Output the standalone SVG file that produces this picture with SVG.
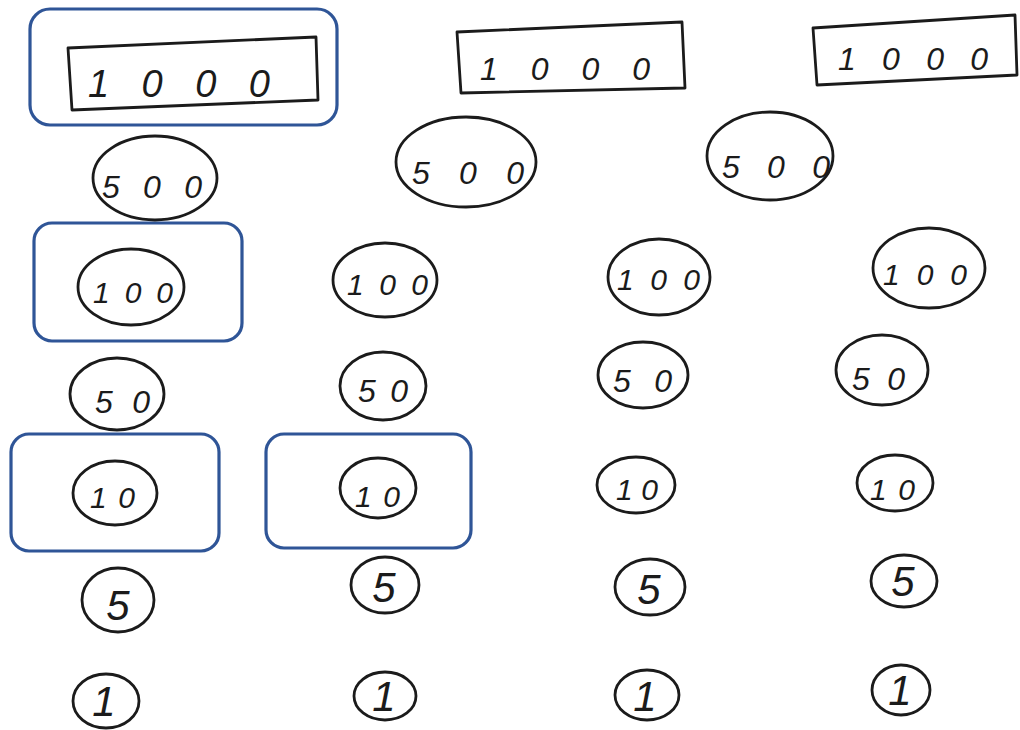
<svg xmlns="http://www.w3.org/2000/svg" width="1020" height="730" viewBox="0 0 1020 730">
<style>
.ink{fill:none;stroke:#1b1b1b;stroke-width:2.8;stroke-linejoin:round}
.hl{fill:none;stroke:#2F5597;stroke-width:3.2}
.t{font-family:"Liberation Sans",Arial,sans-serif;font-style:italic;fill:#1b1b1b}
.big{font-size:38px}
.m{font-size:32px}
.s{font-size:30px}
.d{font-size:42px}
.c{text-anchor:middle}
</style>
<rect width="1020" height="730" fill="#ffffff"/>
<g id="highlights">
<rect class="hl" x="30" y="9" width="307" height="116" rx="20"/>
<rect class="hl" x="34" y="223" width="208" height="118" rx="18"/>
<rect class="hl" x="11" y="434" width="208" height="117" rx="18"/>
<rect class="hl" x="266" y="434" width="205" height="114" rx="18"/>
</g>
<g id="bill1"><polygon class="ink" points="68,48 316,37 318,100 72,110"/><text class="t big" x="88" y="97" textLength="182" lengthAdjust="spacing">1000</text></g>
<g id="bill2"><polygon class="ink" points="457,32 682,22 685,88 461,93"/><text class="t m" x="480" y="80" textLength="170" lengthAdjust="spacing">1000</text></g>
<g id="bill3"><polygon class="ink" points="813,28 1015,15 1017,75 817,85"/><text class="t m" x="838" y="70" textLength="150" lengthAdjust="spacing">1000</text></g>

<g id="c500a"><ellipse class="ink" cx="155" cy="178" rx="62" ry="42"/><text class="t m" x="102" y="198" textLength="100" lengthAdjust="spacing">500</text></g>
<g id="c500b"><ellipse class="ink" cx="466" cy="162" rx="70" ry="45"/><text class="t m" x="412" y="184" textLength="112" lengthAdjust="spacing">500</text></g>
<g id="c500c"><ellipse class="ink" cx="770" cy="156" rx="63" ry="44"/><text class="t m" x="722" y="178" textLength="108" lengthAdjust="spacing">500</text></g>

<g id="c100a"><ellipse class="ink" cx="131" cy="287" rx="53" ry="38"/><text class="t s" x="93" y="303" textLength="80" lengthAdjust="spacing">100</text></g>
<g id="c100b"><ellipse class="ink" cx="385" cy="280" rx="52" ry="37"/><text class="t s" x="347" y="295" textLength="81" lengthAdjust="spacing">100</text></g>
<g id="c100c"><ellipse class="ink" cx="659" cy="277" rx="51" ry="38"/><text class="t s" x="617" y="290" textLength="83" lengthAdjust="spacing">100</text></g>
<g id="c100d"><ellipse class="ink" cx="929" cy="268" rx="56" ry="40"/><text class="t s" x="883" y="285" textLength="84" lengthAdjust="spacing">100</text></g>

<g id="c50a"><ellipse class="ink" cx="117" cy="394" rx="47" ry="36"/><text class="t m" x="95" y="413" textLength="55" lengthAdjust="spacing">50</text></g>
<g id="c50b"><ellipse class="ink" cx="383" cy="386" rx="43" ry="34"/><text class="t m" x="358" y="402" textLength="50" lengthAdjust="spacing">50</text></g>
<g id="c50c"><ellipse class="ink" cx="643" cy="375" rx="45" ry="33"/><text class="t m" x="613" y="392" textLength="59" lengthAdjust="spacing">50</text></g>
<g id="c50d"><ellipse class="ink" cx="882" cy="370" rx="46" ry="35"/><text class="t m" x="852" y="390" textLength="53" lengthAdjust="spacing">50</text></g>

<g id="c10a"><ellipse class="ink" cx="115" cy="493" rx="42" ry="32"/><text class="t s" x="90" y="508" textLength="45" lengthAdjust="spacing">10</text></g>
<g id="c10b"><ellipse class="ink" cx="378" cy="488" rx="38" ry="30"/><text class="t s" x="355" y="507" textLength="45" lengthAdjust="spacing">10</text></g>
<g id="c10c"><ellipse class="ink" cx="636" cy="485" rx="39" ry="28"/><text class="t s" x="616" y="500" textLength="42" lengthAdjust="spacing">10</text></g>
<g id="c10d"><ellipse class="ink" cx="895" cy="483" rx="38" ry="28"/><text class="t s" x="870" y="500" textLength="45" lengthAdjust="spacing">10</text></g>

<g id="c5a"><ellipse class="ink" cx="118" cy="600" rx="36" ry="32"/><text class="t d c" x="118" y="620">5</text></g>
<g id="c5b"><ellipse class="ink" cx="385" cy="585" rx="34" ry="28"/><text class="t d c" x="384" y="602">5</text></g>
<g id="c5c"><ellipse class="ink" cx="650" cy="587" rx="35" ry="28"/><text class="t d c" x="649" y="604">5</text></g>
<g id="c5d"><ellipse class="ink" cx="904" cy="581" rx="33" ry="26"/><text class="t d c" x="903" y="596">5</text></g>

<g id="c1a"><ellipse class="ink" cx="106" cy="701" rx="33" ry="27"/><text class="t d c" x="104" y="716">1</text></g>
<g id="c1b"><ellipse class="ink" cx="385" cy="696" rx="31" ry="24"/><text class="t d c" x="384" y="711">1</text></g>
<g id="c1c"><ellipse class="ink" cx="647" cy="695" rx="32" ry="25"/><text class="t d c" x="645" y="711">1</text></g>
<g id="c1d"><ellipse class="ink" cx="901" cy="690" rx="29" ry="25"/><text class="t d c" x="900" y="705">1</text></g>
</svg>
